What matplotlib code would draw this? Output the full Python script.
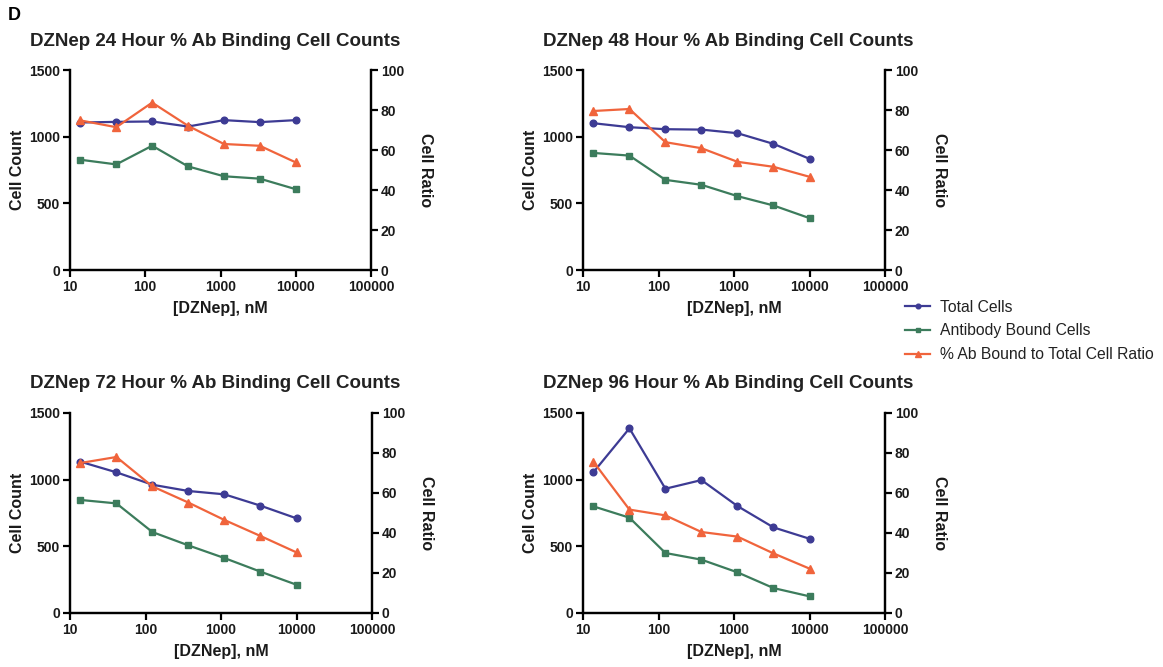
import numpy as np
import matplotlib
matplotlib.use("Agg")
import matplotlib.pyplot as plt
from matplotlib.ticker import FixedLocator, NullLocator, FixedFormatter

plt.rcParams['font.family'] = ['Liberation Sans', 'DejaVu Sans']

# DZNep concentrations (nM), 3-fold dilution series
conc = [13.7, 41.2, 123.5, 370.4, 1111, 3333, 10000]

titles = ["DZNep 24 Hour % Ab Binding Cell Counts",
          "DZNep 48 Hour % Ab Binding Cell Counts",
          "DZNep 72 Hour % Ab Binding Cell Counts",
          "DZNep 96 Hour % Ab Binding Cell Counts"]

total_24 = [1106, 1111, 1114, 1076, 1124, 1109, 1124]
bound_24 = [827, 792, 932, 777, 703, 685, 606]
ratio_24 = [74.8, 71.4, 83.7, 72.1, 63.0, 62.1, 53.8]

total_48 = [1101, 1071, 1056, 1053, 1026, 946, 834]
bound_48 = [878, 858, 676, 639, 554, 484, 389]
ratio_48 = [79.5, 80.5, 63.9, 60.9, 54.1, 51.6, 46.6]

total_72 = [1135, 1055, 962, 915, 890, 805, 710]
bound_72 = [848, 822, 607, 507, 412, 310, 212]
ratio_72 = [75.0, 78.0, 63.3, 55.2, 46.5, 38.5, 30.3]

total_96 = [1055, 1385, 932, 997, 802, 642, 557]
bound_96 = [800, 715, 450, 400, 305, 187, 125]
ratio_96 = [75.7, 51.7, 48.8, 40.5, 38.2, 29.8, 22.2]

series_labels = ["Total Cells", "Antibody Bound Cells", "% Ab Bound to Total Cell Ratio"]
blue = '#3d3b94'
green = '#3c7c5c'
orange = '#f0643c'
txt = '#1a1a1a'

W, H = 1163, 667
fig = plt.figure(figsize=(W / 100, H / 100), dpi=100)

# axes boxes in pixels: left, top, right, bottom
boxes = [(70, 70, 371, 270), (583, 70, 885, 270),
         (70, 413, 372, 613), (583, 413, 885, 613)]
title_pos = [(30, 41), (543, 41), (30, 383), (543, 383)]
data = [(total_24, bound_24, ratio_24), (total_48, bound_48, ratio_48),
        (total_72, bound_72, ratio_72), (total_96, bound_96, ratio_96)]

tick_kw = dict(labelsize=10, width=1.6, length=5, pad=2, direction='out', labelcolor=txt)
handles = None
for i in range(4):
    l, t, r, b = boxes[i]
    ax = fig.add_axes([l / W, 1 - b / H, (r - l) / W, (b - t) / H])
    ax2 = ax.twinx()
    tot, bnd, rat = data[i]
    h1, = ax.plot(conc, tot, color=blue, marker='o', ms=4.8, lw=1.6, label=series_labels[0])
    h2, = ax.plot(conc, bnd, color=green, marker='s', ms=4.8, lw=1.6, label=series_labels[1])
    h3, = ax2.plot(conc, rat, color=orange, marker='^', ms=5.2, lw=1.6, label=series_labels[2])
    handles = [h1, h2, h3]

    ax.set_xscale('log')
    ax.set_xlim(10, 100000)
    ax.set_ylim(0, 1500)
    ax2.set_ylim(0, 100)
    ax.xaxis.set_major_locator(FixedLocator([10, 100, 1000, 10000, 100000]))
    ax.xaxis.set_major_formatter(FixedFormatter(['10', '100', '1000', '10000', '100000']))
    ax.xaxis.set_minor_locator(NullLocator())
    ax.set_yticks([0, 500, 1000, 1500])
    ax2.set_yticks([0, 20, 40, 60, 80, 100])

    for a in (ax, ax2):
        a.spines['top'].set_visible(False)
        for s in ('left', 'right', 'bottom'):
            a.spines[s].set_linewidth(1.6)
        a.tick_params(**tick_kw)
        for lab in a.get_xticklabels() + a.get_yticklabels():
            lab.set_fontweight('bold')
    ax.set_xlabel("[DZNep], nM", fontsize=11.5, fontweight='bold', labelpad=5, color=txt)
    ax.set_ylabel("Cell Count", fontsize=11.5, fontweight='bold', labelpad=3, color=txt)
    ax2.set_ylabel("Cell Ratio", fontsize=11.5, fontweight='bold', rotation=270,
                   labelpad=21, color=txt)

    tx, ty = title_pos[i]
    fig.text(tx / W, 1 - ty / H, titles[i], fontsize=13.5, fontweight='bold',
             ha='left', va='center', color='#222222')

fig.text(8 / W, 1 - 16 / H, "D", fontsize=13, fontweight='bold', ha='left', va='center')

fig.legend(handles, series_labels, loc='center left', bbox_to_anchor=(905 / W, 1 - 331 / H),
           frameon=False, fontsize=11.3, handlelength=1.6, markerscale=0.7,
           labelspacing=0.55, handletextpad=0.6, borderpad=0, borderaxespad=0,
           labelcolor='#222222')

fig.savefig("out.png", dpi=100)
